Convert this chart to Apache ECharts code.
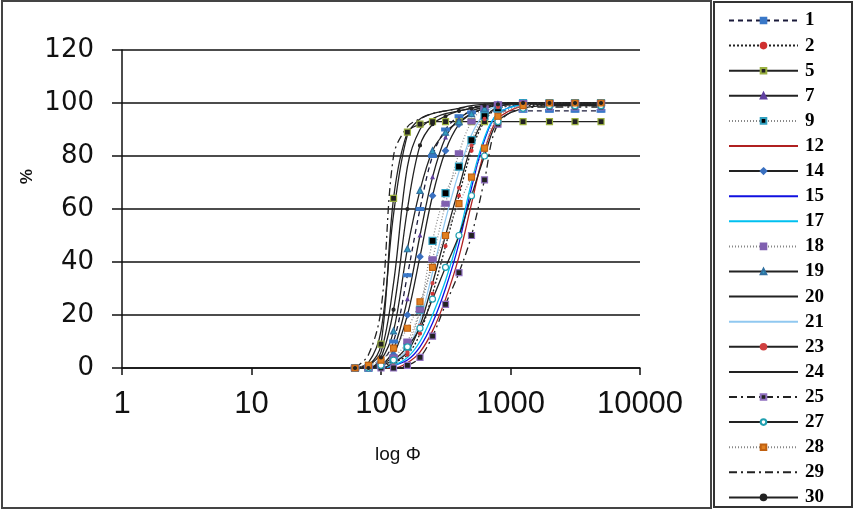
<!DOCTYPE html>
<html>
<head>
<meta charset="utf-8">
<script src="https://cdn.jsdelivr.net/npm/echarts@6/dist/echarts.min.js"></script>
<style>
html,body{margin:0;padding:0;background:#fff;}
#c{width:862px;height:510px;}
</style>
</head>
<body>
<div id="c"></div>
<script>
// sieve sizes (x values, log scale)
const xValues = [63, 80, 100, 125, 160, 200, 250, 315, 400, 500, 630, 800, 1250, 2000, 3150, 5000];
const xTicks = [1, 10, 100, 1000, 10000];
const yTicks = [0, 20, 40, 60, 80, 100, 120];

// cumulative % passing per sample
const s1  = [0, 0, 2, 10, 35, 60, 80, 90, 95, 96.5, 97, 97, 97, 97, 97, 97];
const s2  = [0, 0, 1, 2, 5, 13, 28, 46, 65, 82, 93, 98, 99, 99, 99, 99];
const s5  = [0, 1, 9, 64, 89, 92, 93, 93, 93, 93, 93, 93, 93, 93, 93, 93];
const s7  = [0, 0, 1, 7, 26, 50, 72, 87, 94, 97, 98.5, 99.5, 100, 100, 100, 100];
const s9  = [0, 0, 1, 3, 8, 22, 48, 66, 76, 86, 95, 98, 100, 100, 100, 100];
const s12 = [0, 0, 0, 0, 2, 6, 14, 26, 42, 62, 82, 94, 99, 100, 100, 100];
const s14 = [0, 0, 1, 5, 20, 42, 65, 82, 92, 96, 98, 99.5, 100, 100, 100, 100];
const s15 = [0, 0, 0, 1, 3, 8, 17, 30, 47, 68, 86, 96, 99.5, 100, 100, 100];
const s17 = [0, 0, 0, 1, 4, 10, 20, 33, 50, 70, 87, 96, 99.5, 100, 100, 100];
const s18 = [0, 0, 1, 4, 10, 22, 41, 62, 81, 93, 98, 99.5, 100, 100, 100, 100];
const s19 = [0, 0, 3, 14, 45, 67, 82, 89, 93, 96, 98, 99, 99.5, 99.5, 99.5, 99.5];
const s20 = [0, 1, 6, 32, 76, 90, 94, 96, 97, 98, 99, 99.5, 100, 100, 100, 100];
const s21 = [0, 0, 0, 2, 7, 18, 36, 56, 74, 88, 96, 99, 100, 100, 100, 100];
const s23 = [0, 0, 0, 2, 6, 16, 32, 50, 68, 84, 94, 98.5, 100, 100, 100, 100];
const s24 = [0, 2, 14, 58, 88, 94, 96, 97, 98, 99, 99.5, 100, 100, 100, 100, 100];
const s25 = [0, 0, 0, 0, 1, 4, 12, 24, 36, 50, 71, 92, 98, 98.5, 98.5, 98.5];
const s27 = [0, 0, 1, 3, 8, 15, 26, 38, 50, 65, 80, 93, 98, 99, 99, 99];
const s28 = [0, 1, 3, 7.5, 15, 25, 38, 50, 62, 72, 83, 95, 99, 100, 100, 100];
const s29 = [0, 5, 22, 80, 91, 94, 96, 97, 98, 98.5, 99, 99.5, 100, 100, 100, 100];
const s30 = [0, 0, 4, 22, 60, 84, 92, 95, 97, 98, 99, 99.5, 100, 100, 100, 100];

const names = ['1','2','5','7','9','12','14','15','17','18','19','20','21','23','24','25','27','28','29','30'];
const values = [s1,s2,s5,s7,s9,s12,s14,s15,s17,s18,s19,s20,s21,s23,s24,s25,s27,s28,s29,s30];

// styles per series
const styles = {
  '1':  {lc:'#1a1a3a', lt:[5,4], sym:'rect', ss:[7,3], mf:'#3a78c8', mb:'#3a78c8'},
  '2':  {lc:'#222', lt:[2,2], sym:'circle', ss:3, mf:'#d03030', mb:'#d03030'},
  '5':  {lc:'#222', lt:'solid', sym:'rect', ss:6, mf:'#222', mb:'#9ab040'},
  '7':  {lc:'#222', lt:'solid', sym:'triangle', ss:3, mf:'#6040a0', mb:'#6040a0'},
  '9':  {lc:'#888', lt:[1,2], sym:'rect', ss:7, mf:'#000', mb:'#30a0c0'},
  '12': {lc:'#b02020', lt:'solid', sym:'none'},
  '14': {lc:'#222', lt:'solid', sym:'diamond', ss:6, mf:'#3a70c0', mb:'#3a70c0'},
  '15': {lc:'#1010e0', lt:'solid', sym:'none'},
  '17': {lc:'#00c0f0', lt:'solid', sym:'none'},
  '18': {lc:'#888', lt:[1,2], sym:'rect', ss:[7,5], mf:'#8060b0', mb:'#8060b0'},
  '19': {lc:'#222', lt:'solid', sym:'triangle', ss:6, mf:'#30a0c0', mb:'#3070a0'},
  '20': {lc:'#222', lt:'solid', sym:'none'},
  '21': {lc:'#90c8f0', lt:'solid', sym:'none'},
  '23': {lc:'#222', lt:'solid', sym:'circle', ss:3, mf:'#d04040', mb:'#d04040'},
  '24': {lc:'#222', lt:'solid', sym:'none'},
  '25': {lc:'#222', lt:[8,4,2,4], sym:'rect', ss:6, mf:'#222', mb:'#9070c0'},
  '27': {lc:'#222', lt:'solid', sym:'circle', ss:6, mf:'#fff', mb:'#20a0b0'},
  '28': {lc:'#888', lt:[1,2], sym:'rect', ss:6, mf:'#e08020', mb:'#c06010'},
  '29': {lc:'#222', lt:[8,4,2,4], sym:'none'},
  '30': {lc:'#222', lt:'solid', sym:'circle', ss:3, mf:'#222', mb:'#222'}
};

const series = names.map((n, k) => {
  const st = styles[n];
  return {
    name: n,
    type: 'line',
    smooth: 0.35,
    data: xValues.map((x, i) => [x, values[k][i]]),
    symbol: st.sym,
    symbolSize: st.ss || 4,
    showSymbol: st.sym !== 'none',
    lineStyle: {color: st.lc, width: 1.3, type: st.lt},
    itemStyle: {color: st.mf || st.lc, borderColor: st.mb || st.lc, borderWidth: 1.2},
    emphasis: {disabled: true},
    animation: false
  };
});

const legendData = names.map(n => {
  const st = styles[n];
  if (st.sym === 'none') {
    return {name: n, itemStyle: {color: 'rgba(0,0,0,0)', borderColor: 'rgba(0,0,0,0)', borderWidth: 0}};
  }
  return {name: n};
});

const chart = echarts.init(document.getElementById('c'), null, {renderer: 'canvas'});
chart.setOption({
  backgroundColor: '#fff',
  animation: false,
  grid: {left: 122, right: 222, top: 50, bottom: 142},
  xAxis: {
    type: 'log', logBase: 10, min: xTicks[0], max: xTicks[xTicks.length - 1],
    axisLine: {lineStyle: {color: '#111', width: 1.5}},
    axisTick: {show: true, inside: false, length: 7, lineStyle: {color: '#111', width: 1.5}},
    axisLabel: {fontSize: 31, color: '#111', fontFamily: 'Liberation Sans, Arial', margin: 21,
      formatter: v => String(Math.round(v))},
    splitLine: {show: false},
    minorTick: {show: false}
  },
  yAxis: {
    type: 'value', min: yTicks[0], max: yTicks[yTicks.length - 1], interval: 20,
    axisLine: {show: true, lineStyle: {color: '#111', width: 1.5}},
    axisTick: {show: true, inside: false, length: 10, lineStyle: {color: '#111', width: 1.5}},
    axisLabel: {fontSize: 26, color: '#111', fontFamily: 'DejaVu Sans', margin: 28},
    splitLine: {show: true, lineStyle: {color: '#111', width: 1.6}}
  },
  legend: {
    orient: 'vertical', left: 723, top: 6, height: 504,
    data: legendData,
    itemWidth: 69, itemHeight: 7, itemGap: 6.1,
    textStyle: {fontFamily: 'Liberation Serif, Times New Roman', fontWeight: 'bold', fontSize: 19, color: '#000', padding: [0, 0, 0, 2]},
    selectedMode: false
  },
  graphic: [
    {type: 'rect', shape: {x: 2, y: 1, width: 709, height: 507}, style: {fill: 'none', stroke: '#444', lineWidth: 2}, silent: true},
    {type: 'rect', shape: {x: 714, y: 2, width: 138, height: 505}, style: {fill: 'none', stroke: '#333', lineWidth: 2}, silent: true},
    {type: 'text', left: 375, top: 445, style: {text: 'log Φ', fontSize: 19, fill: '#111', fontFamily: 'Liberation Sans, Arial'}},
    {type: 'text', x: 33, y: 169, rotation: -Math.PI / 2, style: {text: '%', fontSize: 17, fill: '#111', fontFamily: 'Liberation Sans, Arial', fontWeight: 'bold'}}
  ],
  series: series
});
</script>
</body>
</html>
